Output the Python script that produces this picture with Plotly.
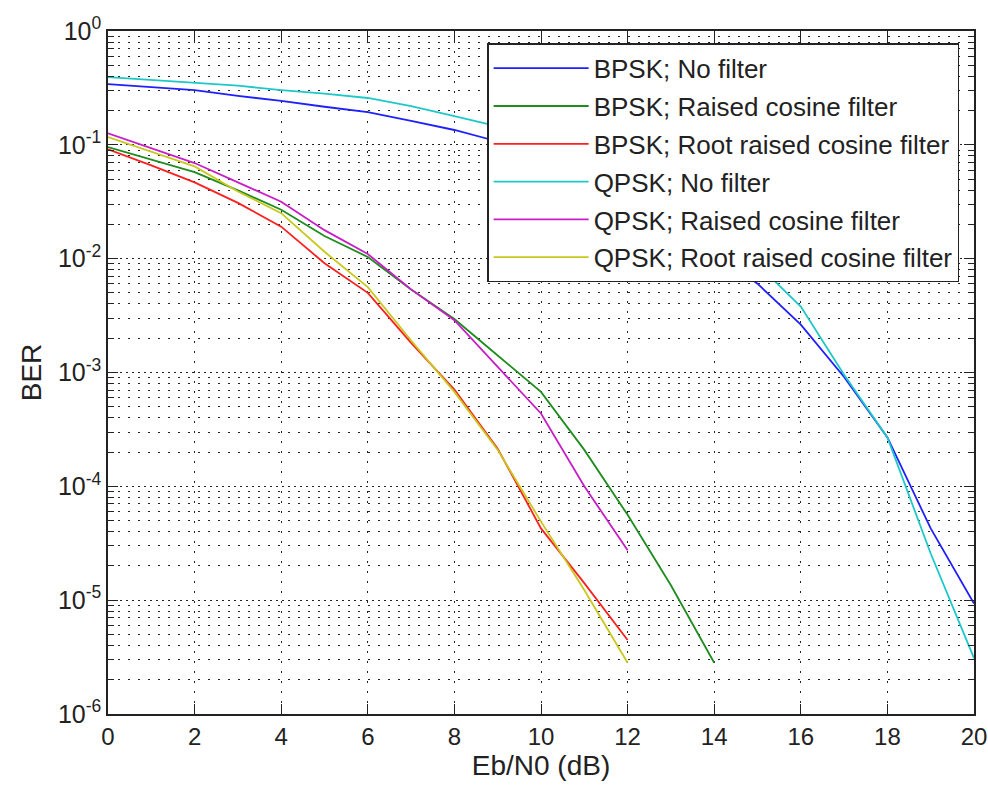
import plotly.graph_objects as go

# Eb/N0 (dB)
ebn0_full = list(range(0, 21))
ebn0_14 = list(range(0, 15))
ebn0_12 = list(range(0, 13))

# BER values
ber_bpsk_nofilter = [0.342, 0.324, 0.303, 0.269, 0.243, 0.216, 0.194, 0.162, 0.135, 0.107,
                     0.0794, 0.0562, 0.0355, 0.0209, 0.0117, 6.03e-3, 2.63e-3, 9.12e-4,
                     2.69e-4, 4.27e-5, 9.33e-6]
ber_bpsk_rc = [0.0955, 0.0741, 0.0575, 0.0398, 0.0269, 0.0158, 0.01035, 5.37e-3, 2.95e-3,
               1.41e-3, 6.76e-4, 2.09e-4, 5.62e-5, 1.35e-5, 2.82e-6]
ber_bpsk_rrc = [0.0912, 0.0661, 0.0468, 0.0309, 0.0191, 9.12e-3, 5.01e-3, 1.82e-3, 7.08e-4,
                2.14e-4, 4.27e-5, 1.41e-5, 4.47e-6]
ber_qpsk_nofilter = [0.394, 0.372, 0.349, 0.331, 0.303, 0.282, 0.258, 0.219, 0.179, 0.145,
                     0.112, 0.0832, 0.0562, 0.0331, 0.0178, 8.91e-3, 3.80e-3, 9.55e-4,
                     2.69e-4, 2.57e-5, 3.09e-6]
ber_qpsk_rc = [0.126, 0.0933, 0.0692, 0.0468, 0.0316, 0.0178, 0.0110, 5.37e-3, 2.88e-3,
               1.12e-3, 4.37e-4, 1.0e-4, 2.75e-5]
ber_qpsk_rrc = [0.117, 0.0871, 0.0646, 0.0389, 0.0251, 0.0115, 5.62e-3, 1.91e-3, 6.76e-4,
                2.09e-4, 4.90e-5, 1.23e-5, 2.82e-6]

series_names = ["BPSK; No filter", "BPSK; Raised cosine filter", "BPSK; Root raised cosine filter",
                "QPSK; No filter", "QPSK; Raised cosine filter", "QPSK; Root raised cosine filter"]
series_colors = ["#1f1fff", "#1e8c1e", "#ff1f1f", "#1ec8c8", "#c81ec8", "#c8c81e"]

x_tick_vals = [0, 2, 4, 6, 8, 10, 12, 14, 16, 18, 20]
y_tick_vals = [1e-6, 1e-5, 1e-4, 1e-3, 1e-2, 1e-1, 1]
y_tick_text = ["10<sup>-6</sup>", "10<sup>-5</sup>", "10<sup>-4</sup>", "10<sup>-3</sup>",
               "10<sup>-2</sup>", "10<sup>-1</sup>", "10<sup>0</sup>"]

xs = [ebn0_full, ebn0_14, ebn0_12, ebn0_full, ebn0_12, ebn0_12]
ys = [ber_bpsk_nofilter, ber_bpsk_rc, ber_bpsk_rrc, ber_qpsk_nofilter, ber_qpsk_rc, ber_qpsk_rrc]

minor_vals = [m * 10.0 ** e for e in range(-6, 0) for m in range(2, 10)]

FONT = "Liberation Sans, Arial, Helvetica, sans-serif"
INK = "#222"
GRID = "#222"

fig = go.Figure()
for i in range(6):
    fig.add_trace(go.Scatter(x=xs[i], y=ys[i], mode="lines", name=series_names[i],
                             legendgroup=str(i),
                             line=dict(color=series_colors[i], width=1.8)))

fig.update_layout(
    width=988, height=785,
    margin=dict(l=108, r=14, t=31, b=71),
    paper_bgcolor="white", plot_bgcolor="white",
    font=dict(family=FONT, size=25, color=INK),
    legend=dict(x=0.4378, y=0.982, xanchor="left", yanchor="top",
                bgcolor="white", bordercolor=INK, borderwidth=1.5,
                font=dict(family=FONT, size=26, color=INK),
                tracegroupgap=1, itemwidth=95),
    xaxis=dict(range=[0, 20], tickvals=x_tick_vals, ticks="inside", ticklen=10,
               tickcolor=INK, mirror="allticks", showline=True, linecolor=INK,
               linewidth=1.5, showgrid=True, gridcolor=GRID, griddash="2px,8px",
               gridwidth=1, zeroline=False, automargin=False,
               ticklabeloverflow="allow",
               tickfont=dict(size=24),
               title=dict(text="Eb/N0 (dB)", standoff=2, font=dict(size=28))),
    yaxis=dict(type="log", range=[-6, 0], tickvals=y_tick_vals, ticktext=y_tick_text,
               ticks="inside", ticklen=10, tickcolor=INK, mirror="allticks",
               showline=True, linecolor=INK, linewidth=1.5,
               showgrid=True, gridcolor=GRID, griddash="2px,4px", gridwidth=1,
               zeroline=False, automargin=False, tickfont=dict(size=25),
               ticklabeloverflow="allow",
               minor=dict(tickvals=minor_vals, ticks="inside", ticklen=6, tickcolor=INK,
                          showgrid=True, gridcolor=GRID, griddash="2px,8px", gridwidth=1),
               title=dict(text="BER", standoff=8, font=dict(size=28))),
)

fig.write_html("out.html", config={"displayModeBar": False},
               post_script="document.body.style.margin='0';document.body.style.overflow='hidden';")
